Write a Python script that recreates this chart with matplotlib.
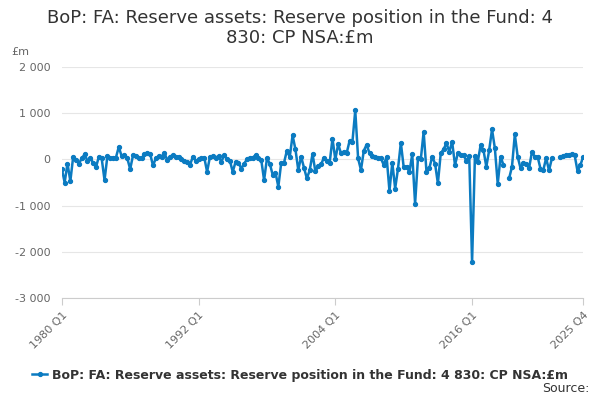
import numpy as np
import matplotlib.pyplot as plt
from matplotlib.ticker import FuncFormatter

# Quarterly values, 1980 Q1 .. 2025 Q4 (£m); None = missing
values = [
    -200, -500, -90, -470, 60, -10, -90, 20, 110, -30,
    20, -70, -170, 60, 20, -450, 70, 20, 40, 40,
    270, 70, 90, 20, -210, 90, 70, 40, 20, 120,
    130, 120, -130, 20, 70, 60, 140, -10, 60, 90,
    60, 60, 0, -40, -60, -120, 60, -30, 0, 20,
    40, -270, 60, 70, 40, 70, -50, 90, 0, -30,
    -270, -50, -70, -200, -90, 0, 40, 40, 90, 20,
    -10, -450, 20, -90, -330, -290, -590, -80, -70, 190,
    50, 520, 220, -230, 60, -180, -410, -240, 120, -260,
    -150, -110, 40, -30, -80, 450, 0, 330, 130, 170,
    140, 400, 380, 1060, 20, -230, 190, 320, 130, 70,
    50, 40, 20, -120, 60, -680, -70, -630, -200, 360,
    -170, -160, -270, 110, -960, 20, 0, 600, -270, -190,
    60, -90, -520, 130, 220, 350, 170, 380, -120, 130,
    90, 90, -30, 70, -2220, 70, -50, 310, 200, -160,
    200, 650, 240, -530, 60, -120, None, -410, -160, 540,
    60, -190, -70, -90, -190, 160, 60, 60, -200, -230,
    30, -240, 20, None, None, 50, 70, 90, 100, 120,
    90, -250, -120, 50,
]
tick_pos = [0, 48, 96, 144, 183]
tick_labels = ["1980 Q1", "1992 Q1", "2004 Q1", "2016 Q1", "2025 Q4"]
y_ticks = [2000, 1000, 0, -1000, -2000, -3000]

title = "BoP: FA: Reserve assets: Reserve position in the Fund: 4\n830: CP NSA:£m"
series_name = "BoP: FA: Reserve assets: Reserve position in the Fund: 4 830: CP NSA:£m"

y = np.array([np.nan if v is None else v for v in values], dtype=float)
x = np.arange(len(y))

blue = "#0b7bc1"

fig = plt.figure(figsize=(6, 4), dpi=100)
ax = fig.add_axes([0.103, 0.255, 0.869, 0.5775])

line, = ax.plot(x, y, color=blue, lw=1.8, marker="o", ms=2.8,
                label=series_name)

ax.set_xlim(0, 183)
ax.set_ylim(-3000, 2000)
ax.set_yticks(y_ticks)


def fmt(v, pos):
    s = "{:,.0f}".format(abs(v)).replace(",", " ")
    return ("-" if v < 0 else "") + s


ax.yaxis.set_major_formatter(FuncFormatter(fmt))
ax.set_xticks(tick_pos)
ax.set_xticklabels(tick_labels, rotation=45, ha="right", rotation_mode="anchor")

ax.grid(axis="y", color="#e6e6e6", lw=0.8)
ax.set_axisbelow(True)
for s in ["top", "right", "left"]:
    ax.spines[s].set_visible(False)
ax.spines["bottom"].set_color("#cccccc")
ax.tick_params(axis="y", length=0, labelsize=8, colors="#666666", pad=8)
ax.tick_params(axis="x", length=5, color="#cccccc", labelsize=8,
               labelcolor="#666666")

fig.text(0.5, 0.978, title, ha="center", va="top", fontsize=13, color="#333333",
         linespacing=1.15)
fig.text(0.018, 0.862, "£m", fontsize=8, color="#666666")

fig.legend(handles=[line], loc="center", bbox_to_anchor=(0.5, 0.062),
           frameon=False, prop={"size": 9, "weight": "bold"},
           handlelength=1.2, handletextpad=0.4, labelcolor="#333333")
fig.text(0.982, 0.012, "Source:", ha="right", va="bottom", fontsize=9,
         color="#333333")

fig.savefig("out.png")
